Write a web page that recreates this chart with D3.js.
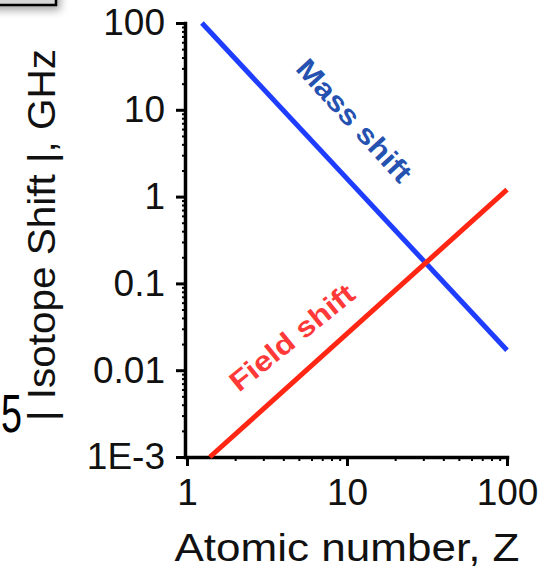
<!DOCTYPE html>
<html><head><meta charset="utf-8">
<script src="https://cdn.jsdelivr.net/npm/d3@7/dist/d3.min.js"></script>
<style>body{margin:0;background:#fff;} svg{display:block;font-family:"Liberation Sans",Arial,Helvetica,sans-serif;}</style>
</head><body><svg id="c" width="548" height="574"></svg>
<script>
// Data
const massZ = [1.24, 100];
const massShift = [100, 0.017];
const fieldZ = [1.39, 100];
const fieldShift = [0.001, 1.2];
const xTickValues = [1, 10, 100];
const xTickLabels = ["1", "10", "100"];
const yTickValues = [0.001, 0.01, 0.1, 1, 10, 100];
const yTickLabels = ["1E-3", "0.01", "0.1", "1", "10", "100"];
const xTitle = "Atomic number, Z";
const yTitle = "| Isotope Shift |, GHz";

const svg = d3.select("#c");
const x = d3.scaleLog().domain([1, 100]).range([187, 507]);
const y = d3.scaleLog().domain([1e-3, 100]).range([457, 23]);

// stray fragments at the edges of the cropped figure
svg.append("defs").append("filter").attr("id", "sh").attr("x", "-50%").attr("y", "-50%").attr("width", "200%").attr("height", "200%")
  .append("feDropShadow").attr("dx", 3).attr("dy", 4).attr("stdDeviation", 4).attr("flood-color", "#000").attr("flood-opacity", 0.35);
svg.append("rect").attr("x", -20).attr("y", -20).attr("width", 76).attr("height", 25)
  .attr("fill", "#d6d6d6").attr("stroke", "#000").attr("stroke-width", 2.5).attr("filter", "url(#sh)");
svg.append("text").attr("x", 1).attr("y", 432).attr("font-size", 54).attr("fill", "#000")
  .attr("textLength", 21).attr("lengthAdjust", "spacingAndGlyphs").text("5");

// minor tick values
const minorX = [];
[1, 10].forEach(d => { for (let k = 2; k <= 9; k++) minorX.push(d * k); });
const minorY = [];
[0.001, 0.01, 0.1, 1, 10].forEach(d => { for (let k = 2; k <= 9; k++) minorY.push(d * k); });

// minor ticks
svg.append("g").attr("transform", "translate(0,457)")
  .call(d3.axisBottom(x).tickValues(minorX).tickSize(4).tickFormat(""))
  .call(g => g.select(".domain").remove())
  .call(g => g.selectAll("line").attr("stroke-width", 2));
svg.append("g").attr("transform", "translate(185,0)")
  .call(d3.axisLeft(y).tickValues(minorY).tickSize(3).tickFormat(""))
  .call(g => g.select(".domain").remove())
  .call(g => g.selectAll("line").attr("stroke-width", 2));

// major axes
const xAxis = svg.append("g").attr("transform", "translate(0,457)")
  .call(d3.axisBottom(x).tickValues(xTickValues).tickSize(9).tickSizeOuter(0).tickPadding(13)
    .tickFormat((d, i) => xTickLabels[i]));
const yAxis = svg.append("g").attr("transform", "translate(185,0)")
  .call(d3.axisLeft(y).tickValues(yTickValues).tickSize(9).tickSizeOuter(0).tickPadding(11)
    .tickFormat((d, i) => yTickLabels[i]));
[xAxis, yAxis].forEach(g => {
  g.select(".domain").attr("stroke-width", 3.5).attr("stroke-linecap", "square");
  g.selectAll(".tick line").attr("stroke-width", 3);
  g.selectAll(".tick text").attr("font-size", 37).attr("fill", "#111")
    .attr("font-family", "'Liberation Sans',Arial,Helvetica,sans-serif");
});

// lines
const line = d3.line().x(d => x(d[0])).y(d => y(d[1]));
svg.append("path").datum(massZ.map((z, i) => [z, massShift[i]]))
  .attr("d", line).attr("fill", "none").attr("stroke", "#1f3dff").attr("stroke-width", 5);
svg.append("path").datum(fieldZ.map((z, i) => [z, fieldShift[i]]))
  .attr("d", line).attr("fill", "none").attr("stroke", "#ff2614").attr("stroke-width", 5);

// in-plot labels
svg.append("text").attr("transform", "translate(347,127) rotate(47.6)")
  .attr("text-anchor", "middle").attr("font-size", 28).attr("font-weight", "bold")
  .attr("fill", "#2552b0").attr("textLength", 156).attr("lengthAdjust", "spacingAndGlyphs")
  .text("Mass shift");
svg.append("text").attr("transform", "translate(298,345) rotate(-39)")
  .attr("text-anchor", "middle").attr("font-size", 28).attr("font-weight", "bold")
  .attr("fill", "#ff3838").attr("textLength", 152).attr("lengthAdjust", "spacingAndGlyphs")
  .text("Field shift");

// axis titles
svg.append("text").attr("x", 347).attr("y", 561).attr("text-anchor", "middle")
  .attr("font-size", 39).attr("fill", "#111").attr("textLength", 345).attr("lengthAdjust", "spacingAndGlyphs")
  .text(xTitle);
svg.append("text").attr("transform", "translate(55,235) rotate(-90)").attr("text-anchor", "middle")
  .attr("font-size", 39).attr("fill", "#111").attr("textLength", 372).attr("lengthAdjust", "spacingAndGlyphs")
  .text(yTitle);
</script></body></html>
